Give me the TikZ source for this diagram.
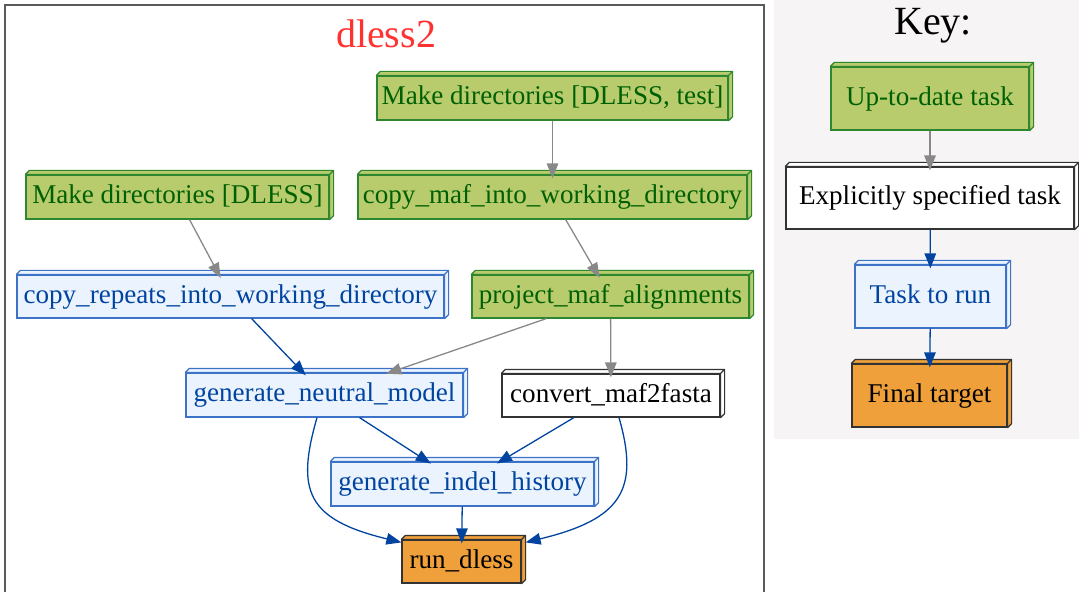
\documentclass[tikz,border=0pt]{standalone}
\usepackage{fontspec}
\setmainfont{Liberation Serif}
\usetikzlibrary{arrows.meta}

\definecolor{utdfill}{HTML}{B8CC6E}
\definecolor{utdtext}{HTML}{006000}
\definecolor{utdline}{HTML}{2E862E}
\definecolor{runfill}{HTML}{EBF3FF}
\definecolor{runtext}{HTML}{0044A0}
\definecolor{runline}{HTML}{3D73C6}
\definecolor{finalfill}{HTML}{EFA03B}
\definecolor{darkline}{HTML}{333333}
\definecolor{keyfill}{HTML}{F6F4F4}
\definecolor{titlered}{HTML}{FF3232}
\definecolor{edgegray}{HTML}{888888}
\definecolor{framegray}{HTML}{5A5A5A}

\newcommand{\tasksize}{\fontsize{27.1bp}{32bp}\selectfont}
\newcommand{\headsize}{\fontsize{40bp}{46bp}\selectfont}

\tikzset{
  task/.style={rectangle, inner sep=0pt, line width=1.2bp, font=\tasksize,
    text height=20bp, text depth=6.6bp},
  utd/.style={task, fill=utdfill, draw=utdline, text=utdtext},
  torun/.style={task, fill=runfill, draw=runline, text=runtext},
  explicit/.style={task, fill=white, draw=darkline, text=black},
  finaltask/.style={task, fill=finalfill, draw=darkline, text=black},
  sideface/.style={line width=1.2bp, line join=round},
  heading/.style={font=\headsize, inner sep=0pt, anchor=base},
  tip/.style={-{Triangle[length=15bp,width=11.5bp]}},
  grayedge/.style={tip, draw=edgegray, line width=1.3bp},
  runedge/.style={tip, draw=runtext, line width=1.3bp},
  ontop/.style={shorten >=-4bp},
}

\begin{document}
\begin{tikzpicture}[x=1bp, y=-1bp]
\useasboundingbox (0,0) rectangle (1079,592);

% key panel background and pipeline frame
\fill[keyfill] (774,0) rectangle (1079,439);
\draw[framegray, line width=1.6bp] (5,592) -- (5,5) -- (764,5) -- (764,592);

% headings
\node[heading, text=titlered] (pipetitle) at (386,48) {dless2};
\node[heading, text=black] (keytitle) at (933,35) {Key:};

% pipeline tasks
\node[utd, minimum width=351bp, minimum height=44bp] (mkdirtest) at (552.5,98) {Make directories [DLESS, test]};
\node[utd, minimum width=389bp, minimum height=44bp] (copymaf) at (552.5,197) {copy\_maf\_into\_working\_directory};
\node[utd, minimum width=303bp, minimum height=44bp] (mkdir) at (177.5,197) {Make directories [DLESS]};
\node[torun, minimum width=427bp, minimum height=43bp] (copyrep) at (230.5,296.5) {copy\_repeats\_into\_working\_directory};
\node[utd, minimum width=277bp, minimum height=43bp] (project) at (610.5,296.5) {project\_maf\_alignments};
\node[torun, minimum width=277bp, minimum height=44bp] (neutral) at (324.5,395) {generate\_neutral\_model};
\node[explicit, minimum width=218bp, minimum height=43bp] (convert) at (611,395.5) {convert\_maf2fasta};
\node[torun, minimum width=263bp, minimum height=44bp] (indel) at (462.5,484) {generate\_indel\_history};
\node[finaltask, minimum width=119bp, minimum height=43bp] (rundless) at (461.5,561.5) {run\_dless};

% key tasks
\node[utd, minimum width=198bp, minimum height=63bp] (uptodate) at (930,98.5) {Up-to-date task};
\node[explicit, minimum width=288bp, minimum height=62bp] (explicitkey) at (930,198) {Explicitly specified task};
\node[torun, minimum width=151bp, minimum height=63bp] (taskrun) at (930.5,296.5) {Task to run};
\node[finaltask, minimum width=155bp, minimum height=63bp] (finalkey) at (929.5,395.5) {Final target};

% top and right faces of every box
\foreach \n/\f/\l in {mkdirtest/utdfill/utdline, copymaf/utdfill/utdline,
    mkdir/utdfill/utdline, copyrep/runfill/runline, project/utdfill/utdline,
    neutral/runfill/runline, convert/white/darkline, indel/runfill/runline,
    rundless/finalfill/darkline, uptodate/utdfill/utdline,
    explicitkey/white/darkline, taskrun/runfill/runline, finalkey/finalfill/darkline}{
  \draw[sideface, fill=\f, draw=\l]
    (\n.north west) -- ([shift={(4,-4)}]\n.north west)
    -- ([shift={(4,-4)}]\n.north east) -- ([shift={(4,-4)}]\n.south east)
    -- (\n.south east) -- (\n.north east) -- cycle
    (\n.north east) -- ([shift={(4,-4)}]\n.north east);
}

% pipeline dependencies
\draw[grayedge, ontop] (mkdirtest) -- (copymaf);
\draw[grayedge, ontop] (mkdir) -- (copyrep);
\draw[grayedge, ontop] (copymaf) -- (project);
\draw[runedge, ontop] (copyrep) -- (neutral);
\draw[grayedge, ontop] (project) -- (neutral);
\draw[grayedge, ontop] (project) -- (convert);
\draw[runedge, ontop] (neutral) -- (indel);
\draw[runedge, ontop] (convert) -- (indel);
\draw[runedge, ontop] (indel) -- (rundless);
\draw[runedge] ([xshift=-7.5bp]neutral.south) .. controls +(-21,73) and +(-95,-23) .. ([yshift=-3bp]rundless.north west);
\draw[runedge] ([xshift=8bp]convert.south) .. controls +(21,73) and +(95,-23) .. ([xshift=4bp,yshift=-3bp]rundless.north east);

% key dependencies
\draw[grayedge, ontop] (uptodate) -- (explicitkey);
\draw[runedge, ontop] (explicitkey) -- (taskrun);
\draw[runedge, ontop] (taskrun) -- (finalkey);
\end{tikzpicture}
\end{document}
